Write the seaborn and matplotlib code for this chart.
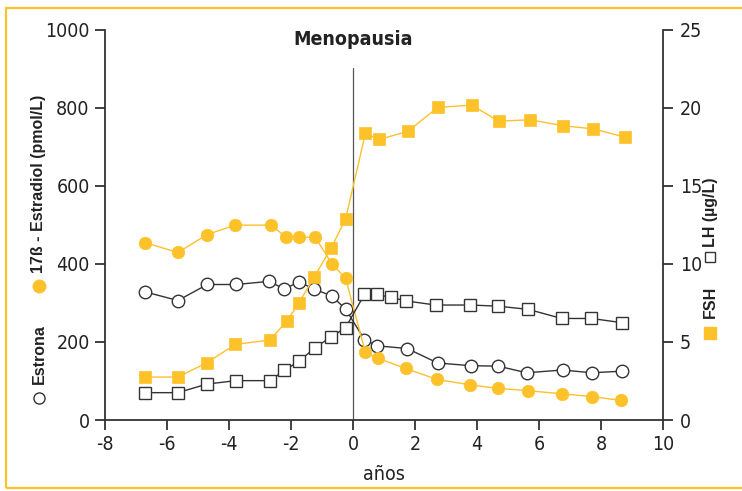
import matplotlib
matplotlib.use("Agg")
import matplotlib.pyplot as plt
from matplotlib import font_manager
from matplotlib.patches import Rectangle
from matplotlib.lines import Line2D
import seaborn as sns
import pandas as pd

# Hormone levels around menopause (years relative to the last period)
years_e2 = [-6.7, -5.65, -4.7, -3.8, -2.65, -2.15, -1.75, -1.22, -0.68, -0.24,
            0.4, 0.8, 1.7, 2.7, 3.78, 4.67, 5.66, 6.75, 7.72, 8.65]
estradiol = [454, 429, 475, 499, 499, 468, 468, 468, 400, 363,
             173, 158, 132, 104, 90, 81, 75, 67, 60, 50]

years_e1 = [-6.7, -5.65, -4.7, -3.78, -2.7, -2.21, -1.75, -1.25, -0.69, -0.24,
            0.37, 0.78, 1.75, 2.73, 3.81, 4.68, 5.6, 6.76, 7.7, 8.69]
estrona = [328, 306, 347, 347, 355, 335, 354, 335, 318, 284,
           206, 190, 183, 146, 139, 138, 121, 128, 121, 125]

years_fsh = [-6.7, -5.65, -4.71, -3.8, -2.68, -2.12, -1.75, -1.25, -0.7, -0.24,
             0.4, 0.84, 1.77, 2.73, 3.83, 4.7, 5.72, 6.77, 7.75, 8.77]
fsh = [2.75, 2.75, 3.67, 4.84, 5.12, 6.36, 7.49, 9.15, 11.03, 12.86,
       18.35, 17.96, 18.48, 20.01, 20.16, 19.13, 19.22, 18.84, 18.64, 18.11]

years_lh = [-6.7, -5.65, -4.71, -3.77, -2.68, -2.21, -1.75, -1.22, -0.7, -0.24,
            0.37, 0.76, 1.22, 1.72, 2.67, 3.78, 4.67, 5.66, 6.73, 7.69, 8.68]
lh = [1.75, 1.75, 2.30, 2.52, 2.52, 3.18, 3.75, 4.63, 5.33, 5.91,
      8.04, 8.04, 7.85, 7.62, 7.36, 7.36, 7.29, 7.08, 6.50, 6.50, 6.23]

x_ticks = [-8, -6, -4, -2, 0, 2, 4, 6, 8, 10]
left_ticks = [0, 200, 400, 600, 800, 1000]
right_ticks = [0, 5, 10, 15, 20, 25]

YELLOW = "#FDC12A"
DARK = "#333333"
TEXT = "#222222"

sns.set_theme(style="white")
plt.rcParams["axes.unicode_minus"] = False


def find_font(keys, bold):
    """Return a FontProperties for the first installed file matching keys."""
    for key in keys:
        for f in font_manager.fontManager.ttflist:
            fn = f.fname.replace("-", "").replace("_", "").lower()
            if key in fn and (("bold" in fn) == bold) and "oblique" not in fn and "italic" not in fn:
                return font_manager.FontProperties(fname=f.fname)
    return None


narrow_keys = ["liberationsansnarrow", "dejavusanscondensed", "opensanscondensed",
               "robotocondensed"]
fp_narrow = find_font(narrow_keys, bold=False)
fp_narrow_bold = find_font(narrow_keys, bold=True)
if fp_narrow is None:
    fp_narrow = font_manager.FontProperties(family="Liberation Sans")
if fp_narrow_bold is None:
    fp_narrow_bold = font_manager.FontProperties(family="Liberation Sans", weight="bold")
fp_label = font_manager.FontProperties(family="Liberation Sans", weight="bold")

W, H = 742, 491
fig = plt.figure(figsize=(W / 100, H / 100), dpi=100)
fig.patch.set_facecolor("white")

# frame around the figure
fig.patches.append(Rectangle((5.5 / W, 1 - 488 / H), (W + 20) / W, (488 - 8) / H,
                             transform=fig.transFigure, fill=False,
                             edgecolor=YELLOW, linewidth=1.6, zorder=0))

ax = fig.add_axes([105 / W, 1 - 420 / H, (663 - 105) / W, (420 - 29.5) / H])
ax2 = ax.twinx()

df_e2 = pd.DataFrame({"años": years_e2, "valor": estradiol})
df_e1 = pd.DataFrame({"años": years_e1, "valor": estrona})
df_fsh = pd.DataFrame({"años": years_fsh, "valor": fsh})
df_lh = pd.DataFrame({"años": years_lh, "valor": lh})

line_kw = dict(linewidth=1.0, sort=False, estimator=None)

sns.lineplot(data=df_e1, x="años", y="valor", ax=ax, color=DARK, marker="o",
             markersize=9, markerfacecolor="white", markeredgecolor=DARK,
             markeredgewidth=1.0, zorder=3, **line_kw)
sns.lineplot(data=df_e2, x="años", y="valor", ax=ax, color=YELLOW, marker="o",
             markersize=9, markerfacecolor=YELLOW, markeredgecolor=YELLOW,
             markeredgewidth=0.5, zorder=4, **line_kw)
sns.lineplot(data=df_lh, x="años", y="valor", ax=ax2, color=DARK, marker="s",
             markersize=8.5, markerfacecolor="white", markeredgecolor=DARK,
             markeredgewidth=1.0, zorder=3, **line_kw)
sns.lineplot(data=df_fsh, x="años", y="valor", ax=ax2, color=YELLOW, marker="s",
             markersize=8.5, markerfacecolor=YELLOW, markeredgecolor=YELLOW,
             markeredgewidth=0.5, zorder=4, **line_kw)

# menopause marker
ax.plot([0, 0], [0, 902], color="#555555", linewidth=0.9, zorder=1)
ax.text(0, 975, "Menopausia", ha="center", va="center", fontproperties=fp_narrow_bold,
        fontsize=14, color=TEXT)

ax.set_xlim(-8, 10)
ax.set_ylim(0, 1000)
ax2.set_ylim(0, 25)
ax.set_xticks(x_ticks)
ax.set_yticks(left_ticks)
ax2.set_yticks(right_ticks)
ax.set_xlabel("años", fontproperties=fp_narrow, fontsize=14, color=TEXT, labelpad=8)
ax.set_ylabel("")
ax2.set_ylabel("")

for a in (ax, ax2):
    for s in a.spines.values():
        s.set_visible(False)
    a.grid(False)
    a.set_facecolor("none")
ax.spines["left"].set_visible(True)
ax.spines["bottom"].set_visible(True)
ax2.spines["right"].set_visible(True)
for s in (ax.spines["left"], ax.spines["bottom"], ax2.spines["right"]):
    s.set_color(DARK)
    s.set_linewidth(1.3)

ax.tick_params(axis="both", direction="out", length=7, width=1.3, color=DARK,
               labelcolor=TEXT, pad=4, left=True, bottom=True)
ax2.tick_params(axis="y", direction="out", length=7, width=1.3, color=DARK,
                labelcolor=TEXT, pad=5, right=True)
for lbl in ax.get_xticklabels() + ax.get_yticklabels() + ax2.get_yticklabels():
    lbl.set_fontproperties(fp_narrow)
    lbl.set_fontsize(14)


# composite axis labels with marker keys
def vtext(px, py, s):
    fig.text(px / W, 1 - py / H, s, rotation=90, rotation_mode="anchor",
             ha="left", va="center", fontproperties=fp_label, fontsize=11.5, color=TEXT)


def key(px, py, marker, face, edge, size):
    fig.add_artist(Line2D([px / W], [1 - py / H], transform=fig.transFigure,
                          marker=marker, markersize=size, markerfacecolor=face,
                          markeredgecolor=edge, markeredgewidth=1.0, linestyle="none"))


key(39, 398, "o", "white", DARK, 8)
vtext(39, 384, "Estrona")
key(39, 286, "o", YELLOW, YELLOW, 9)
vtext(39, 273, "17ß - Estradiol (pmol/L)")

key(710, 333, "s", YELLOW, YELLOW, 8)
vtext(710, 318, "FSH")
key(710, 257, "s", "white", DARK, 7)
vtext(710, 247, "LH (µg/L)")

fig.savefig("out.png", dpi=100, facecolor=fig.get_facecolor())
